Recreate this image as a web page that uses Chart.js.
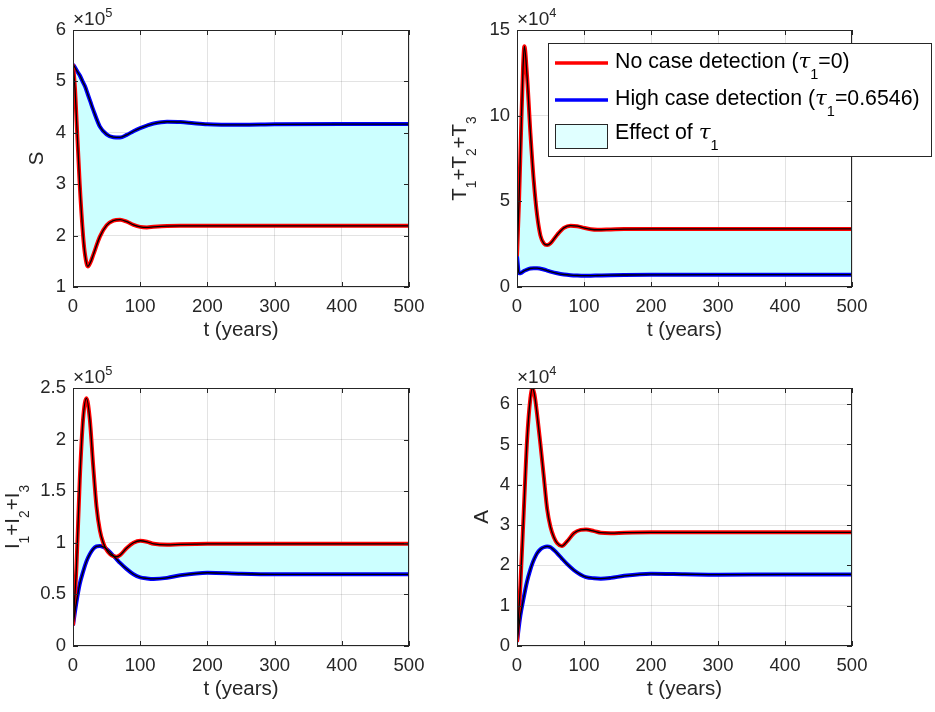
<!DOCTYPE html>
<html>
<head>
<meta charset="utf-8">
<script src="https://cdn.jsdelivr.net/npm/chart.js@4.4.1/dist/chart.umd.min.js"></script>
<style>
  body { margin: 0; background: #fff; width: 935px; height: 712px; overflow: hidden; position: relative; }
  .panel { position: absolute; }
</style>
</head>
<body>
<div class="panel" style="left:0;top:0;width:445px;height:356px"><canvas id="chart-s"></canvas></div>
<div class="panel" style="left:445px;top:0;width:490px;height:356px"><canvas id="chart-t"></canvas></div>
<div class="panel" style="left:0;top:356px;width:445px;height:356px"><canvas id="chart-i"></canvas></div>
<div class="panel" style="left:445px;top:356px;width:490px;height:356px"><canvas id="chart-a"></canvas></div>
<script>
// values (S, I in units of 1e5; T, A in units of 1e4)
let tS = [0, 3, 6, 10, 15, 18, 22, 26, 30, 40, 50, 60, 70, 80, 90, 100, 110, 120, 140, 160, 180, 200, 250, 300, 400, 500];
let sNoDetect = [5.33, 4.85, 4.05, 3.0, 2.0, 1.62, 1.40, 1.48, 1.62, 1.98, 2.2, 2.29, 2.31, 2.27, 2.21, 2.17, 2.16, 2.17, 2.185, 2.19, 2.19, 2.19, 2.19, 2.19, 2.19, 2.19];
let sHighDetect = [5.33, 5.27, 5.2, 5.12, 4.98, 4.9, 4.75, 4.6, 4.45, 4.12, 3.97, 3.915, 3.91, 3.96, 4.03, 4.09, 4.14, 4.18, 4.215, 4.21, 4.185, 4.165, 4.155, 4.165, 4.17, 4.17];

let tT = [0, 3, 6, 9, 11, 15, 20, 25, 30, 35, 40, 45, 50, 60, 70, 80, 90, 100, 110, 120, 140, 160, 200, 300, 500];
let tNoDetect = [1.8, 5.0, 9.0, 12.8, 14.05, 12.3, 9.0, 6.2, 4.2, 3.0, 2.55, 2.45, 2.55, 3.05, 3.45, 3.58, 3.55, 3.45, 3.37, 3.34, 3.36, 3.38, 3.39, 3.39, 3.39];
let tHighDetect = [1.8, 0.8, 0.82, 0.9, 0.95, 1.02, 1.08, 1.1, 1.1, 1.07, 1.02, 0.96, 0.9, 0.8, 0.73, 0.69, 0.67, 0.66, 0.66, 0.67, 0.69, 0.70, 0.71, 0.72, 0.72];

let tI = [0, 5, 10, 15, 20, 25, 30, 35, 40, 45, 50, 55, 60, 65, 70, 80, 90, 100, 110, 120, 140, 160, 200, 250, 300, 400, 500];
let iNoDetect = [0.2, 0.75, 1.6, 2.2, 2.4, 2.2, 1.75, 1.35, 1.12, 1.0, 0.93, 0.89, 0.87, 0.865, 0.88, 0.95, 1.0, 1.02, 1.01, 0.99, 0.98, 0.985, 0.99, 0.99, 0.99, 0.99, 0.99];
let iHighDetect = [0.2, 0.42, 0.6, 0.72, 0.82, 0.89, 0.94, 0.965, 0.97, 0.96, 0.94, 0.91, 0.875, 0.84, 0.805, 0.745, 0.695, 0.665, 0.655, 0.65, 0.66, 0.685, 0.71, 0.70, 0.695, 0.695, 0.695];

let tA = [0, 5, 10, 15, 20, 23, 26, 30, 35, 40, 45, 50, 55, 60, 67, 75, 85, 95, 103, 115, 125, 140, 160, 200, 250, 300, 400, 500];
let aNoDetect = [0.1, 1.5, 3.3, 5.1, 6.15, 6.39, 6.25, 5.75, 5.0, 4.2, 3.4, 2.95, 2.7, 2.55, 2.48, 2.6, 2.8, 2.88, 2.89, 2.85, 2.81, 2.8, 2.81, 2.82, 2.82, 2.82, 2.82, 2.82];
let aHighDetect = [0.1, 0.75, 1.2, 1.6, 1.9, 2.05, 2.17, 2.3, 2.4, 2.45, 2.47, 2.45, 2.38, 2.3, 2.17, 2.03, 1.88, 1.77, 1.71, 1.68, 1.67, 1.69, 1.74, 1.79, 1.78, 1.77, 1.775, 1.775];

let legendLabels = [
  [['No case detection (', 'n'], ['τ', 'g'], ['1', 's'], ['=0)', 'n']],
  [['High case detection (', 'n'], ['τ', 'g'], ['1', 's'], ['=0.6546)', 'n']],
  [['Effect of ', 'n'], ['τ', 'g'], ['1', 's']]
];

let SANS = "'Liberation Sans', Arial, Helvetica, sans-serif";
let ink = '#262626';
let red = '#ff0000';
let blue = '#0000ff';
let cyan = '#ccffff';
let labelSize = 20.5;

function partFont(kind, size) {
  if (kind === 's' || kind === 'p') return (size * 0.68).toFixed(1) + 'px ' + SANS;
  if (kind === 'g') return 'italic ' + size + "px 'DejaVu Serif', serif";
  return size + 'px ' + SANS;
}

function partShift(kind, size) {
  if (kind === 's') return size * 0.5;
  if (kind === 'p') return -size * 0.42;
  return 0;
}

// draws text with sub/superscripts, left aligned at baseline y
function richText(ctx, parts, x, y, size, draw) {
  let cx = x;
  parts.forEach(p => {
    ctx.font = partFont(p[1], size);
    if (draw !== false) ctx.fillText(p[0], cx, y + partShift(p[1], size));
    cx += ctx.measureText(p[0]).width;
  });
  return cx - x;
}

let decoPlugin = {
  id: 'deco',
  afterDraw(chart, args, o) {
    let ctx = chart.ctx;
    let a = chart.chartArea;
    let xs = chart.scales.x;
    let ys = chart.scales.y;
    ctx.save();
    ctx.fillStyle = ink;
    ctx.strokeStyle = ink;
    ctx.lineWidth = 1;
    ctx.textBaseline = 'alphabetic';
    ctx.textAlign = 'left';

    // box with inward ticks
    ctx.strokeRect(a.left + 0.5, a.top + 0.5, a.right - a.left - 1, a.bottom - a.top - 1);
    ctx.beginPath();
    xs.ticks.forEach(t => {
      let px = Math.round(xs.getPixelForValue(t.value)) + 0.5;
      ctx.moveTo(px, a.bottom); ctx.lineTo(px, a.bottom - 5);
      ctx.moveTo(px, a.top); ctx.lineTo(px, a.top + 5);
    });
    ys.ticks.forEach(t => {
      let py = Math.round(ys.getPixelForValue(t.value)) + 0.5;
      ctx.moveTo(a.left, py); ctx.lineTo(a.left + 5, py);
      ctx.moveTo(a.right, py); ctx.lineTo(a.right - 5, py);
    });
    ctx.stroke();

    // exponent label
    richText(ctx, [['×10', 'n'], [o.exp, 'p']], a.left, a.top - 5, 19);

    // x title
    ctx.font = labelSize + 'px ' + SANS;
    ctx.textAlign = 'center';
    ctx.fillText('t (years)', (a.left + a.right) / 2, a.bottom + 49);
    ctx.textAlign = 'left';

    // y title, rotated
    let w = richText(ctx, o.ytitle, 0, 0, labelSize, false);
    ctx.save();
    ctx.translate(o.ytitleX, (a.top + a.bottom) / 2);
    ctx.rotate(-Math.PI / 2);
    richText(ctx, o.ytitle, -w / 2, 0, labelSize);
    ctx.restore();

    if (o.legend) {
      let L = o.legend;
      ctx.fillStyle = '#fff';
      ctx.fillRect(L.x0, L.y0, L.x1 - L.x0, L.y1 - L.y0);
      ctx.strokeRect(L.x0 + 0.5, L.y0 + 0.5, L.x1 - L.x0 - 1, L.y1 - L.y0 - 1);
      ctx.lineWidth = 3.5;
      [[red, 63], [blue, 100]].forEach(d => {
        ctx.strokeStyle = d[0];
        ctx.beginPath();
        ctx.moveTo(L.sx0, d[1]); ctx.lineTo(L.sx1, d[1]);
        ctx.stroke();
      });
      ctx.lineWidth = 1;
      ctx.fillStyle = '#e0ffff';
      ctx.strokeStyle = ink;
      ctx.fillRect(L.sx0, 124, L.sx1 - L.sx0, 25);
      ctx.strokeRect(L.sx0 + 0.5, 124.5, L.sx1 - L.sx0 - 1, 24);
      ctx.fillStyle = '#000';
      let baselines = [68, 105, 139];
      legendLabels.forEach((parts, i) => richText(ctx, parts, L.tx, baselines[i], 21.3));
    }
    ctx.restore();
  }
};

function makeChart(id, t, noDetect, highDetect, cfg) {
  let pts = arr => t.map((x, i) => ({x: x, y: arr[i]}));
  let common = {pointRadius: 0, cubicInterpolationMode: 'monotone'};
  return new Chart(id, {
    type: 'line',
    data: {
      datasets: [
        Object.assign({data: pts(noDetect), borderColor: red, borderWidth: 4, fill: '+1', backgroundColor: cyan, order: 1}, common),
        Object.assign({data: pts(highDetect), borderColor: blue, borderWidth: 4, fill: false, order: 2}, common),
        Object.assign({data: pts(noDetect), borderColor: '#000', borderWidth: 1.3, fill: false, order: 0}, common),
        Object.assign({data: pts(highDetect), borderColor: '#000', borderWidth: 1.3, fill: false, order: 0}, common)
      ]
    },
    options: {
      animation: false,
      responsive: true,
      maintainAspectRatio: false,
      events: [],
      layout: {padding: {top: cfg.top, right: cfg.right, left: 0, bottom: 0}},
      scales: {
        x: {
          type: 'linear', min: 0, max: 500,
          ticks: {stepSize: 100, color: ink, font: {family: SANS, size: 18.5}, padding: 9, maxRotation: 0},
          grid: {color: 'rgba(0,0,0,0.11)', drawTicks: false},
          border: {display: false},
          afterFit: s => { s.height = cfg.xh; }
        },
        y: {
          type: 'linear', min: cfg.ymin, max: cfg.ymax,
          ticks: {color: ink, font: {family: SANS, size: 18.5}, padding: 7, callback: v => String(v)},
          grid: {color: 'rgba(0,0,0,0.11)', drawTicks: false},
          border: {display: false},
          afterBuildTicks: s => { s.ticks = cfg.yticks.map(v => ({value: v})); },
          afterFit: s => { s.width = cfg.yw; }
        }
      },
      plugins: {
        legend: {display: false},
        tooltip: {enabled: false},
        filler: {drawTime: 'beforeDatasetsDraw'},
        deco: {exp: cfg.exp, ytitle: cfg.ytitle, ytitleX: cfg.ytitleX, legend: cfg.legend}
      }
    },
    plugins: [decoPlugin]
  });
}

makeChart('chart-s', tS, sNoDetect, sHighDetect, {
  top: 30, right: 36, xh: 69, yw: 73, ymin: 1, ymax: 6, yticks: [1, 2, 3, 4, 5, 6], exp: '5',
  ytitle: [['S', 'n']], ytitleX: 43
});

makeChart('chart-t', tT, tNoDetect, tHighDetect, {
  top: 30, right: 83, xh: 69, yw: 72, ymin: 0, ymax: 15, yticks: [0, 5, 10, 15], exp: '4',
  ytitle: [['T', 'n'], ['1', 's'], ['+T', 'n'], ['2', 's'], ['+T', 'n'], ['3', 's']], ytitleX: 21,
  legend: {x0: 103, y0: 43, x1: 487, y1: 157, sx0: 110, sx1: 163, tx: 170}
});

makeChart('chart-i', tI, iNoDetect, iHighDetect, {
  top: 32, right: 36, xh: 66, yw: 73, ymin: 0, ymax: 2.5, yticks: [0, 0.5, 1, 1.5, 2, 2.5], exp: '5',
  ytitle: [['I', 'n'], ['1', 's'], ['+I', 'n'], ['2', 's'], ['+I', 'n'], ['3', 's']], ytitleX: 19
});

makeChart('chart-a', tA, aNoDetect, aHighDetect, {
  top: 32, right: 83, xh: 66, yw: 72, ymin: 0, ymax: 6.4, yticks: [0, 1, 2, 3, 4, 5, 6], exp: '4',
  ytitle: [['A', 'n']], ytitleX: 43
});
</script>
</body>
</html>
